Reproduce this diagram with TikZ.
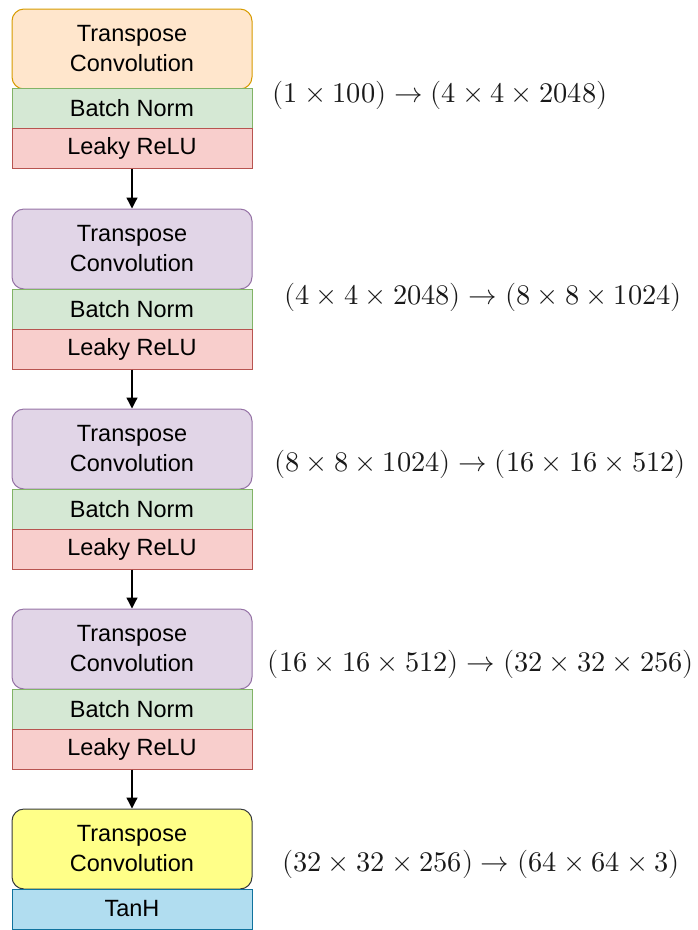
\documentclass[tikz,border=0pt]{standalone}
\usepackage{fontspec}
\setmainfont{Liberation Sans}
\usepackage{unicode-math}
\setmathfont{Latin Modern Math}
\usetikzlibrary{arrows.meta}
\definecolor{orF}{HTML}{FFE6CC}\definecolor{orD}{HTML}{D79B00}
\definecolor{grF}{HTML}{D5E8D4}\definecolor{grD}{HTML}{82B366}
\definecolor{rdF}{HTML}{F8CECC}\definecolor{rdD}{HTML}{B85450}
\definecolor{puF}{HTML}{E1D5E7}\definecolor{puD}{HTML}{9673A6}
\definecolor{yeF}{HTML}{FFFF88}\definecolor{yeD}{HTML}{36393D}
\definecolor{blF}{HTML}{B1DDF0}\definecolor{blD}{HTML}{10739E}
\tikzset{
  box/.style={rectangle, minimum width=240pt, inner sep=0pt, line width=1pt, align=center,
    font=\fontsize{23.5}{30}\selectfont, text=black},
  conv/.style={box, minimum height=80pt, rounded corners=12pt},
  thin/.style={box, minimum height=40pt},
  shape label/.style={font=\fontsize{28.4}{34}\selectfont, inner sep=0pt, text=black!90},
  flow/.style={line width=1.3pt, -{Triangle[length=11pt,width=11pt]}},
}
\begin{document}
\begin{tikzpicture}[x=1pt,y=-1pt]
\useasboundingbox (0,0) rectangle (697,930);
% block 1
\node[conv, fill=orF, draw=orD] (c1) at (132,49) {Transpose\\Convolution};
\node[thin, fill=grF, draw=grD] (b1) at (132,108) {Batch Norm};
\node[thin, fill=rdF, draw=rdD] (l1) at (132,148) {Leaky ReLU};
% block 2
\node[conv, fill=puF, draw=puD] (c2) at (132,249) {Transpose\\Convolution};
\node[thin, fill=grF, draw=grD] (b2) at (132,309) {Batch Norm};
\node[thin, fill=rdF, draw=rdD] (l2) at (132,349) {Leaky ReLU};
% block 3
\node[conv, fill=puF, draw=puD] (c3) at (132,449) {Transpose\\Convolution};
\node[thin, fill=grF, draw=grD] (b3) at (132,509) {Batch Norm};
\node[thin, fill=rdF, draw=rdD] (l3) at (132,549) {Leaky ReLU};
% block 4
\node[conv, fill=puF, draw=puD] (c4) at (132,649) {Transpose\\Convolution};
\node[thin, fill=grF, draw=grD] (b4) at (132,709) {Batch Norm};
\node[thin, fill=rdF, draw=rdD] (l4) at (132,749) {Leaky ReLU};
% block 5
\node[conv, fill=yeF, draw=yeD] (c5) at (132,849) {Transpose\\Convolution};
\node[thin, fill=blF, draw=blD] (t5) at (132,909) {TanH};
% arrows
\draw[flow] (l1.south) -- (c2.north);
\draw[flow] (l2.south) -- (c3.north);
\draw[flow] (l3.south) -- (c4.north);
\draw[flow] (l4.south) -- (c5.north);
% labels
\node[shape label] (s1) at (440,95) {$(1\times 100)\rightarrow(4\times 4\times 2048)$};
\node[shape label] (s2) at (483,297) {$(4\times 4\times 2048)\rightarrow(8\times 8\times 1024)$};
\node[shape label] (s3) at (480,464) {$(8\times 8\times 1024)\rightarrow(16\times 16\times 512)$};
\node[shape label] (s4) at (481,664) {$(16\times 16\times 512)\rightarrow(32\times 32\times 256)$};
\node[shape label] (s5) at (481,864) {$(32\times 32\times 256)\rightarrow(64\times 64\times 3)$};
\end{tikzpicture}
\end{document}
